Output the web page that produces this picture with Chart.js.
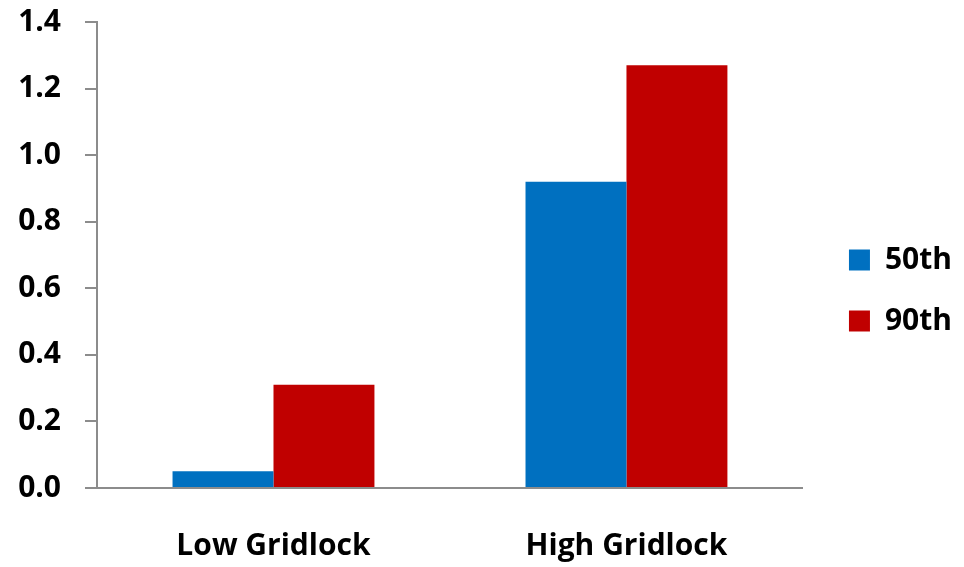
<!DOCTYPE html>
<html>
<head>
<meta charset="utf-8">
<script src="https://cdn.jsdelivr.net/npm/chart.js@4/dist/chart.umd.min.js"></script>
<style>
  html, body { margin: 0; padding: 0; background: #ffffff; }
  #wrap { width: 964px; height: 567px; }
</style>
</head>
<body>
<div id="wrap"><canvas id="c" width="964" height="567"></canvas></div>
<script>
const categories = ['Low Gridlock', 'High Gridlock'];
const seriesNames = ['50th', '90th'];
const values50 = [0.05, 0.92];
const values90 = [0.31, 1.27];
const seriesColors = ['#0070C0', '#C00000'];

const FONT = '"Open Sans", Lato, "Liberation Sans", sans-serif';
const AXIS_GRAY = '#8c8c8c';

// Nudge the legend block away from the plot edge and slightly down.
const legendOffset = {
  id: 'legendOffset',
  afterLayout(chart) {
    const lg = chart.legend;
    if (!lg) return;
    lg.left += 15; lg.right += 15;
    lg.top += 7; lg.bottom += 7;
  }
};

new Chart(document.getElementById('c'), {
  type: 'bar',
  data: {
    labels: categories,
    datasets: [
      { label: seriesNames[0], data: values50, backgroundColor: seriesColors[0], borderWidth: 0 },
      { label: seriesNames[1], data: values90, backgroundColor: seriesColors[1], borderWidth: 0 }
    ]
  },
  plugins: [legendOffset],
  options: {
    responsive: false,
    animation: false,
    devicePixelRatio: 1,
    layout: { padding: { left: 0, right: 17, top: 0, bottom: 0 } },
    categoryPercentage: 0.572,
    barPercentage: 1.0,
    plugins: {
      tooltip: { enabled: false },
      legend: {
        position: 'right',
        align: 'center',
        labels: {
          boxWidth: 21,
          boxHeight: 21,
          padding: 31,
          color: '#000000',
          font: { family: FONT, size: 30, weight: 'bold' }
        }
      }
    },
    scales: {
      x: {
        grid: { display: false, drawTicks: false },
        border: { display: true, color: AXIS_GRAY, width: 2 },
        ticks: {
          color: '#000000',
          padding: 40,
          font: { family: FONT, size: 30, weight: 'bold' }
        },
        afterFit: (scale) => { scale.height = 79; }
      },
      y: {
        min: 0,
        max: 1.4,
        ticks: {
          stepSize: 0.2,
          color: '#000000',
          padding: 24,
          font: { family: FONT, size: 30, weight: 'bold' },
          callback: (v) => Number(v).toFixed(1)
        },
        grid: {
          drawOnChartArea: false,
          drawTicks: true,
          tickLength: 12,
          color: AXIS_GRAY,
          lineWidth: 2
        },
        border: { display: true, color: AXIS_GRAY, width: 2 },
        afterFit: (scale) => {
          scale.width = 97;
          scale.paddingTop = 22;
          scale.paddingBottom = 0;
        }
      }
    }
  }
});
</script>
</body>
</html>
